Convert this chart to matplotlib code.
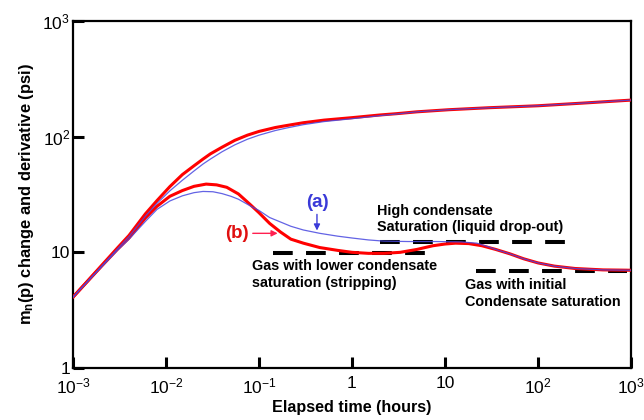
import matplotlib
matplotlib.use("Agg")
import matplotlib.pyplot as plt
from matplotlib.ticker import FixedLocator, FixedFormatter, NullLocator

plt.rcParams['font.family'] = ['Liberation Sans', 'DejaVu Sans']
plt.rcParams['mathtext.fontset'] = 'custom'
plt.rcParams['mathtext.rm'] = 'Liberation Sans'
plt.rcParams['mathtext.it'] = 'Liberation Sans:italic'
plt.rcParams['mathtext.bf'] = 'Liberation Sans:bold'

# ---- data ----
t_press = [0.001, 0.002, 0.003, 0.004, 0.006, 0.008, 0.011, 0.015, 0.02, 0.025, 0.03, 0.04, 0.055,
           0.075, 0.1, 0.15, 0.2, 0.3, 0.5, 1, 2, 3, 5, 11, 30, 100, 300, 1000]
press_b = [4.1, 7.6, 10.9, 14, 21.5, 28, 37, 47, 56, 64, 71, 81, 93,
           103, 111, 120, 125, 132, 139, 146, 154, 158, 164, 171, 178, 185, 195, 207]
press_a = [4.1, 7.5, 10.7, 13.7, 20.5, 26.5, 34, 42, 50.5, 58, 64, 74, 85,
           95, 103, 113, 119, 127, 135, 143, 152, 157, 164, 171, 178, 185, 195, 207]

t_deriv_b = [0.001, 0.002, 0.003, 0.004, 0.006, 0.008, 0.011, 0.015, 0.02, 0.027, 0.035, 0.045, 0.06,
             0.08, 0.1, 0.13, 0.17, 0.22, 0.3, 0.45, 0.7, 1, 1.5, 2.2, 3.3, 5, 7.4, 10, 13, 18, 25,
             35, 50, 70, 100, 150, 250, 500, 1000]
deriv_b = [4.1, 7.5, 10.6, 13.3, 19.8, 25, 30.5, 34.2, 37.2, 38.9, 38.3, 36.5, 32,
           26, 22, 17.8, 15, 13, 12, 11, 10.4, 10.0, 9.8, 9.8, 10.0, 10.6, 11.4, 11.8, 12.0, 11.9, 11.4,
           10.6, 9.7, 8.8, 8.1, 7.6, 7.25, 7.05, 7.0]

t_deriv_a = [0.001, 0.002, 0.003, 0.004, 0.006, 0.008, 0.011, 0.015, 0.02, 0.025, 0.032, 0.04, 0.05,
             0.06, 0.08, 0.1, 0.13, 0.17, 0.22, 0.3, 0.45, 0.7, 1, 1.5, 2.2, 4, 8, 15, 22, 30,
             35, 50, 70, 100, 150, 250, 500, 1000]
deriv_a = [4.1, 7.4, 10.4, 13.0, 18.5, 23.5, 27.8, 30.8, 32.8, 33.6, 33.4, 32.2, 30.5,
           28.8, 25.3, 23, 20, 18.3, 16.8, 15.6, 14.6, 13.8, 13.3, 12.8, 12.5, 12.4, 12.4, 12.3, 12.0, 11.1,
           10.6, 9.7, 8.8, 8.1, 7.6, 7.25, 7.05, 7.0]

# reference levels (dashed)
level_high_t = [2.0, 195]
level_high = 12.4
level_low_t = [0.142, 6.1]
level_low = 9.8
level_init_t = [21.5, 906]
level_init = 6.85

x_ticks = [1e-3, 1e-2, 1e-1, 1, 10, 100, 1000]
x_ticklabels = [r'$\mathregular{10^{-3}}$', r'$\mathregular{10^{-2}}$', r'$\mathregular{10^{-1}}$', '1', '10',
                r'$\mathregular{10^{2}}$', r'$\mathregular{10^{3}}$']
y_ticks = [1, 10, 100, 1000]
y_ticklabels = ['1', '10', r'$\mathregular{10^{2}}$', r'$\mathregular{10^{3}}$']

RED = '#ff0000'
BLUE = '#4848e0'

fig = plt.figure(figsize=(6.44, 4.2), dpi=100)
ax = fig.add_axes([73/644, 1-368/420, (631-73)/644, (368-21)/420])
ax.set_xscale('log')
ax.set_yscale('log')
ax.set_xlim(1e-3, 1e3)
ax.set_ylim(1, 1e3)

ax.plot(t_press, press_b, color=RED, lw=2.2, solid_capstyle='round', solid_joinstyle='round', zorder=3)
ax.plot(t_deriv_b, deriv_b, color=RED, lw=2.2, solid_capstyle='round', solid_joinstyle='round', zorder=3)
ax.plot(t_press, press_a, color=BLUE, lw=0.9, alpha=0.85, zorder=4)
ax.plot(t_deriv_a, deriv_a, color=BLUE, lw=0.9, alpha=0.85, zorder=4)

dash = (0, (4.9, 3.3))
for tt, lv in [(level_high_t, level_high), (level_low_t, level_low), (level_init_t, level_init)]:
    ax.plot(tt, [lv, lv], color='black', lw=2.9, linestyle=dash, dash_capstyle='butt', zorder=2)

# annotations
ax.annotate('', xy=(0.42, 14.6), xytext=(0.42, 22.5),
            arrowprops=dict(arrowstyle='-|>', color='#3a3ad8', lw=1.0, mutation_scale=9), zorder=5)
ax.text(0.42, 27, '(a)', color='#3a3ad8', fontsize=13.5, fontweight='bold', ha='center', va='center')
ax.annotate('', xy=(0.17, 14.6), xytext=(0.080, 14.6),
            arrowprops=dict(arrowstyle='-|>', color='#ff2050', lw=1.0, mutation_scale=9), zorder=5)
ax.text(0.077, 14.6, '(b)', color='#e01010', fontsize=13.5, fontweight='bold', ha='right', va='center')

ax.text(1.86, 26.4, 'High condensate\nSaturation (liquid drop-out)', fontsize=10.4, fontweight='bold',
        ha='left', va='top', linespacing=1.25)
ax.text(0.084, 8.7, 'Gas with lower condensate\nsaturation (stripping)', fontsize=10.4, fontweight='bold',
        ha='left', va='top', linespacing=1.25)
ax.text(16.4, 5.97, 'Gas with initial\nCondensate saturation', fontsize=10.4, fontweight='bold',
        ha='left', va='top', linespacing=1.25)

# axes styling
ax.xaxis.set_major_locator(FixedLocator(x_ticks))
ax.xaxis.set_major_formatter(FixedFormatter(x_ticklabels))
ax.yaxis.set_major_locator(FixedLocator(y_ticks))
ax.yaxis.set_major_formatter(FixedFormatter(y_ticklabels))
ax.xaxis.set_minor_locator(NullLocator())
ax.yaxis.set_minor_locator(NullLocator())
ax.tick_params(axis='both', which='major', direction='in', length=8, width=2.2, labelsize=12.5, colors='black')
ax.tick_params(axis='x', pad=6)
ax.tick_params(axis='y', pad=2)
for s in ax.spines.values():
    s.set_linewidth(1.6)
    s.set_color('black')

ax.set_xlabel('Elapsed time (hours)', fontsize=11.6, fontweight='bold', labelpad=3)
ax.set_ylabel(r'm$_\mathregular{n}$(p) change and derivative (psi)', fontsize=11.9, fontweight='bold', labelpad=5)

fig.savefig('out.png', dpi=100)
